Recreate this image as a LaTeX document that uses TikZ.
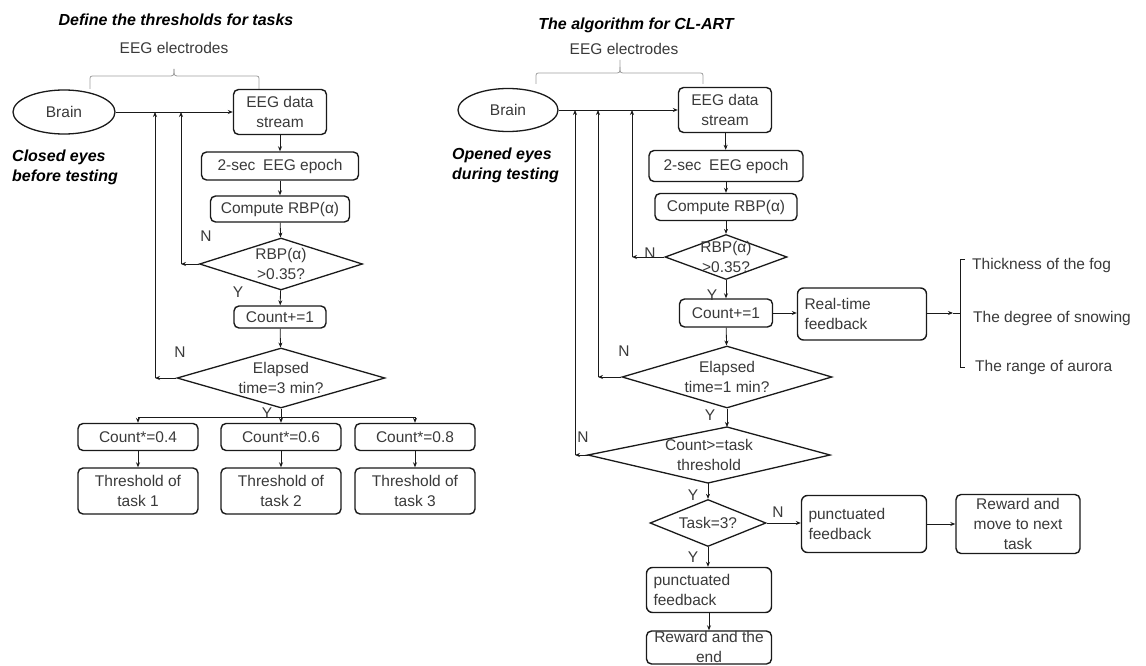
\documentclass[tikz,border=0pt]{standalone}
\usepackage{fontspec}
\setmainfont{Liberation Sans}
\usetikzlibrary{shapes.geometric,arrows.meta}
\definecolor{linec}{HTML}{1A1A1A}
\definecolor{txtc}{HTML}{3A3A3A}
\begin{document}
\begin{tikzpicture}[x=1pt,y=-1pt,
 every node/.style={font=\fontsize{15.5}{20}\selectfont, text=txtc},
 box/.style={draw=linec, line width=1.4pt, rounded corners=5pt, inner sep=0pt, align=center},
 lbox/.style={draw=linec, line width=1.4pt, rounded corners=6pt, inner xsep=7pt, inner ysep=0pt, align=left},
 dia/.style={draw=linec, line width=1.3pt, diamond, inner sep=0pt},
 dl/.style={align=center, inner sep=0pt},
 ell/.style={draw=linec, line width=1.3pt, ellipse, inner sep=0pt},
 arr/.style={draw=linec, line width=0.8pt, -{Stealth[length=5pt,width=4pt]}},
 ln/.style={draw=linec, line width=0.8pt},
 lab/.style={inner sep=0pt},
 ttl/.style={font=\fontsize{16}{20}\selectfont\bfseries\itshape, text=black, inner sep=0pt, align=left},
 brc/.style={draw=gray!75, line width=0.8pt},
]
\fill[white] (0,0) rectangle (1146,666);
\useasboundingbox (0,0) rectangle (1146,666);

% ================= LEFT =================
\node[ttl] (t1) at (176,20) {Define the thresholds for tasks};
\node[lab] (e1) at (174,48) {EEG electrodes};
\draw[brc] (90,89) -- (90,81) .. controls (90,76) .. (95,76) -- (168,76) .. controls (174,76) .. (174,69);
\draw[brc] (259,89) -- (259,81) .. controls (259,76) .. (254,76) -- (180,76) .. controls (174,76) .. (174,69);

\node[ell, minimum width=102, minimum height=44] (b1) at (64,112) {Brain};
\node[ttl, anchor=west] (ce1) at (12,167) {Closed eyes\\before testing};

\node[box, minimum width=93, minimum height=45] (s1) at (280,112) {EEG data\\stream};
\node[box, minimum width=157, minimum height=28] (ep1) at (280,166) {2-sec\enspace EEG epoch};
\node[box, minimum width=139, minimum height=26] (cp1) at (280,209) {Compute RBP(α)};
\node[dia, minimum width=163, minimum height=52, label={[dl]center:{RBP(α)\\>0.35?}}] (r1) at (281,264) {};
\node[box, minimum width=92, minimum height=22] (cn1) at (280,317) {Count+=1};
\node[dia, minimum width=208, minimum height=60, label={[dl]center:{Elapsed\\time=3 min?}}] (el1) at (281,378) {};

\node[box, minimum width=120, minimum height=27] (m1) at (138,437) {Count*=0.4};
\node[box, minimum width=120, minimum height=27] (m2) at (281,437) {Count*=0.6};
\node[box, minimum width=120, minimum height=27] (m3) at (415,437) {Count*=0.8};
\node[box, minimum width=120, minimum height=46] (th1) at (138,491) {Threshold of\\task 1};
\node[box, minimum width=120, minimum height=46] (th2) at (281,491) {Threshold of\\task 2};
\node[box, minimum width=120, minimum height=46] (th3) at (415,491) {Threshold of\\task 3};

\node[lab] (nl1) at (206,236) {N};
\node[lab] (yl1) at (238,292) {Y};
\node[lab] (nl2) at (180,352) {N};
\node[lab] (yl2) at (267,413) {Y};

\coordinate (n1a) at (181,264);
\coordinate (n1b) at (181,112);
\coordinate (n2a) at (155,378);
\coordinate (n2b) at (155,112);
\coordinate (spl) at (138,417);
\coordinate (spr) at (415,417);

\draw[arr] (b1.east) -- (b1.east -| s1.west);
\draw[arr] (s1) -- (ep1);
\draw[arr] (ep1) -- (cp1);
\draw[arr] (cp1) -- (r1);
\draw[arr] (r1) -- (cn1);
\draw[arr] (cn1) -- (el1);
\draw[arr] (r1.west) -- (n1a);
\draw[arr] (n1a) -- (n1b);
\draw[arr] (el1.west) -- (n2a);
\draw[arr] (n2a) -- (n2b);
\draw[arr] (el1.south) -- (m2.north);
\draw[ln] (spl) -- (spr);
\draw[arr] (spl) -- (m1.north);
\draw[arr] (spr) -- (m3.north);
\draw[arr] (m1) -- (th1);
\draw[arr] (m2) -- (th2);
\draw[arr] (m3) -- (th3);

% ================= RIGHT =================
\node[ttl] (t2) at (636,25) {The algorithm for CL-ART};
\node[lab] (e2) at (624,49) {EEG electrodes};
\draw[brc] (536,84) -- (536,78) .. controls (536,73) .. (541,73) -- (614,73) .. controls (620,73) .. (620,67) -- (620,60);
\draw[brc] (703,84) -- (703,78) .. controls (703,73) .. (698,73) -- (626,73) .. controls (620,73) .. (620,67);

\node[ell, minimum width=100, minimum height=43] (b2) at (508,110) {Brain};
\node[ttl, anchor=west] (oe2) at (452,165) {Opened eyes\\during testing};

\node[box, minimum width=93, minimum height=45] (s2) at (725,110) {EEG data\\stream};
\node[box, minimum width=154, minimum height=31] (ep2) at (726,166) {2-sec\enspace EEG epoch};
\node[box, minimum width=142, minimum height=27] (cp2) at (726,207) {Compute RBP(α)};
\node[dia, minimum width=122, minimum height=45, label={[dl]center:{RBP(α)\\>0.35?}}] (r2) at (726,257) {};
\node[box, minimum width=93, minimum height=28] (cn2) at (726,313) {Count+=1};
\node[lbox, minimum width=129, minimum height=52, text width=115] (rt) at (862,314) {Real-time\\feedback};
\node[dia, minimum width=210, minimum height=62, label={[dl]center:{Elapsed\\time=1 min?}}] (el2) at (727,377) {};

% skewed decision diamond
\coordinate (ctn) at (727,427);
\coordinate (cte) at (830,455);
\coordinate (cts) at (708,483);
\coordinate (ctw) at (588,455);
\draw[linec, line width=1.3pt, line join=miter] (ctn) -- (cte) -- (cts) -- (ctw) -- cycle;
\node[dl] (ct3) at (709,455) {Count>=task\\threshold};

\node[dia, minimum width=116, minimum height=47, label={[dl]center:{Task=3?}}] (tk) at (708,523) {};
\node[lbox, minimum width=125, minimum height=57, text width=111] (pf1) at (864,524) {punctuated\\feedback};
\node[box, minimum width=124, minimum height=59] (rw1) at (1018,524) {Reward and\\move to next\\task};
\node[lbox, minimum width=125, minimum height=45, text width=111] (pf2) at (709,590) {punctuated\\feedback};
\node[box, minimum width=125, minimum height=33] (rw2) at (709,647.5) {};
\node[dl] (rw2t) at (709,647) {Reward and the\\end};

% feedback bracket
\coordinate (bk) at (953,313);
\coordinate (bkm) at (960,313);
\draw[ln] (965,259) -- (960,259) -- (960,367) -- (965,367);
\node[lab, anchor=west] (f1) at (972,265) {Thickness of the fog};
\node[lab, anchor=west] (f2) at (973,318) {The degree of snowing};
\node[lab, anchor=west] (f3) at (975,367) {The range of aurora};

\node[lab] (nl3) at (650,253) {N};
\node[lab] (yl3) at (712,295) {Y};
\node[lab] (nl4) at (624,351) {N};
\node[lab] (yl4) at (710,415) {Y};
\node[lab] (nl5) at (583,437) {N};
\node[lab] (yl5) at (693,495) {Y};
\node[lab] (nl6) at (778,512) {N};
\node[lab] (yl6) at (693,557) {Y};

\coordinate (n3a) at (632,257);
\coordinate (n3b) at (632,110);
\coordinate (n4a) at (598,377);
\coordinate (n4b) at (598,110);
\coordinate (n5a) at (575,455);
\coordinate (n5b) at (575,110);

\draw[arr] (b2.east) -- (b2.east -| s2.west);
\draw[arr] (s2) -- (ep2);
\draw[arr] (ep2) -- (cp2);
\draw[arr] (cp2) -- (r2);
\draw[arr] (r2) -- (cn2);
\draw[arr] (cn2) -- (el2);
\draw[arr] (cn2.east) -- (cn2.east -| rt.west);
\draw[arr] (rt.east |- bk) -- (bk);
\draw[ln] (bk) -- (bkm);
\draw[arr] (r2.west) -- (n3a);
\draw[arr] (n3a) -- (n3b);
\draw[arr] (el2.west) -- (n4a);
\draw[arr] (n4a) -- (n4b);
\draw[arr] (el2.south) -- (ctn);
\draw[arr] (ctw) -- (n5a);
\draw[arr] (n5a) -- (n5b);
\draw[arr] (cts) -- (tk.north);
\draw[arr] (tk.east) -- (tk.east -| pf1.west);
\draw[arr] (pf1) -- (rw1);
\draw[arr] (tk.south) -- (pf2.north -| tk.south);
\draw[arr] (pf2) -- (rw2);
\end{tikzpicture}
\end{document}
